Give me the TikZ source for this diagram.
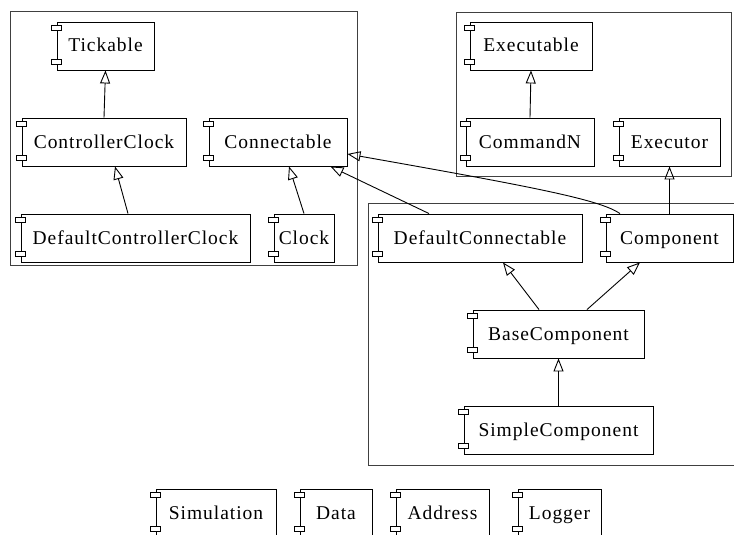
\documentclass[tikz,border=0pt]{standalone}
\usepackage{fontspec}
\setmainfont{Liberation Serif}[LetterSpace=5]
\usetikzlibrary{arrows.meta,calc}

\tikzset{
  comp/.style={draw, line width=0.9pt, fill=white, rectangle, inner sep=0pt,
    minimum height=48pt, text height=12pt, text depth=0pt,
    font=\fontsize{19.5}{22}\selectfont},
  cluster/.style={draw=black!75, line width=0.9pt},
  port/.style={draw, line width=0.9pt, fill=white},
  gen/.style={line width=0.9pt, -{Triangle[open,length=13pt,width=10pt]}},
}

\begin{document}
\begin{tikzpicture}[x=1pt,y=-1pt]
\useasboundingbox (0,0) rectangle (734,535);

% package frames
\draw[cluster] (10,11) rectangle (357,265);
\draw[cluster] (456,12) rectangle (731,176);
\draw[cluster] (368,203) rectangle (745,465);

% components
\node[comp, minimum width=97pt]  (tick)   at (105.5,46)  {Tickable};
\node[comp, minimum width=164pt] (cc)     at (104,142)   {ControllerClock};
\node[comp, minimum width=138pt] (conn)   at (278,142)   {Connectable};
\node[comp, minimum width=229pt] (dcc)    at (135.5,238) {DefaultControllerClock};
\node[comp, minimum width=60pt]  (clock)  at (304,238)   {Clock};
\node[comp, minimum width=122pt] (exe)    at (531,46)    {Executable};
\node[comp, minimum width=128pt] (cmd)    at (530,142)   {CommandN};
\node[comp, minimum width=101pt] (exor)   at (669.5,142) {Executor};
\node[comp, minimum width=204pt] (dconn)  at (480,238)   {DefaultConnectable};
\node[comp, minimum width=127pt] (compo)  at (669.5,238) {Component};
\node[comp, minimum width=171pt] (base)   at (558.5,334) {BaseComponent};
\node[comp, minimum width=189pt] (simple) at (558.5,430) {SimpleComponent};
\node[comp, minimum width=120pt] (sim)    at (216,513)   {Simulation};
\node[comp, minimum width=72pt]  (data)   at (336,513)   {Data};
\node[comp, minimum width=93pt]  (addr)   at (442.5,513) {Address};
\node[comp, minimum width=83pt]  (logger) at (559.5,513) {Logger};

% the two little port tabs on the left edge of each component
\foreach \n in {tick,cc,conn,dcc,clock,exe,cmd,exor,dconn,compo,base,simple,sim,data,addr,logger}{
  \draw[port] ($(\n.north west)+(-5,4)$) rectangle ++(10,4.7);
  \draw[port] ($(\n.south west)+(-5,-10.7)$) rectangle ++(10,4.7);
}

% generalisations
\draw[gen] (cc.north) -- (tick.south);
\draw[gen] ([xshift=-7.5pt]dcc.north) -- ([xshift=11pt]cc.south);
\draw[gen] (clock.north) -- ([xshift=11pt]conn.south);
\draw[gen] (cmd.north) -- (exe.south);
\draw[gen] (compo.north) -- (exor.south);
\draw[gen] ([xshift=-19.5pt]base.north) -- ([xshift=23pt]dconn.south);
\draw[gen] ([xshift=28.5pt]base.north) -- ([xshift=-29.5pt]compo.south);
\draw[gen] (simple.north) -- (base.south);
\draw[gen] ([xshift=-51pt]dconn.north) -- ([xshift=-17pt]conn.south east);
\draw[gen] ([xshift=-49.5pt]compo.north) .. controls (600,200) and (540,188) .. ([yshift=-12pt]conn.east);
\end{tikzpicture}
\end{document}
